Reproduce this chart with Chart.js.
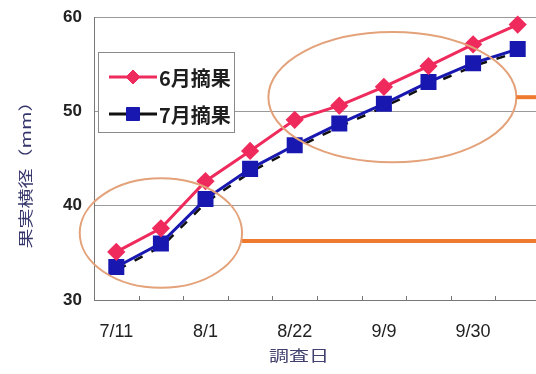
<!DOCTYPE html>
<html>
<head>
<meta charset="utf-8">
<script src="https://cdn.jsdelivr.net/npm/chart.js@4"></script>
<style>
  html, body { margin: 0; padding: 0; overflow: hidden; background: #fff; }
  #wrap { width: 540px; height: 374px; position: relative; }
  canvas { display: block; }
</style>
</head>
<body>
<div id="wrap"><canvas id="c" width="540" height="374"></canvas></div>
<script>
// Survey dates (labelled every second survey)
const categories = ['7/11', '', '8/1', '', '8/22', '', '9/9', '', '9/30', ''];
// Fruit transverse diameter (mm)
const juneThinning = [35.1, 37.6, 42.6, 45.8, 49.1, 50.6, 52.6, 54.8, 57.1, 59.2];
const julyThinning = [33.5, 36.0, 40.7, 43.9, 46.4, 48.7, 50.8, 53.1, 55.1, 56.6];
const seriesNames = ['6月摘果', '7月摘果'];
const yTicks = [30, 40, 50, 60];

const RED = '#ef2a5c';
const BLUE = '#1818b0';
const JP = '"Noto Sans CJK JP", "Noto Sans", sans-serif';

// Highlight rings (in data units) with leader lines running to the right edge
const rings = [
  { cx: 1.0, cy: 37.1, rx: 1.82, ry: 5.8, lineY: 36.25 },
  { cx: 6.19, cy: 51.5, rx: 2.78, ry: 6.9, lineY: 51.5 }
];

const decor = {
  id: 'decor',
  beforeDatasetDraw(chart, args) {
    // dark dashed trace running just under the July line
    if (args.index !== 1) return;
    const pts = chart.getDatasetMeta(1).data;
    const ctx = chart.ctx;
    ctx.save();
    ctx.strokeStyle = '#111';
    ctx.lineWidth = 2.5;
    ctx.setLineDash([9, 10]);
    ctx.beginPath();
    pts.forEach((p, i) => {
      const px = p.x + 1.5, py = p.y + 2.5;
      if (i === 0) ctx.moveTo(px, py); else ctx.lineTo(px, py);
    });
    ctx.stroke();
    ctx.restore();
  },
  afterDatasetsDraw(chart) {
    const ctx = chart.ctx;
    const xs = chart.scales.x, ys = chart.scales.y;
    const unitX = xs.getPixelForValue(1) - xs.getPixelForValue(0);
    const unitY = ys.getPixelForValue(30) - ys.getPixelForValue(31);
    ctx.save();
    rings.forEach(r => {
      const cx = xs.getPixelForValue(r.cx);
      const cy = ys.getPixelForValue(r.cy);
      const rx = r.rx * unitX, ry = r.ry * unitY;
      ctx.strokeStyle = '#e3a27a';
      ctx.lineWidth = 2;
      ctx.beginPath();
      ctx.ellipse(cx, cy, rx, ry, 0, 0, Math.PI * 2);
      ctx.stroke();
      const ly = ys.getPixelForValue(r.lineY);
      ctx.strokeStyle = '#ee7a30';
      ctx.lineWidth = 4;
      ctx.beginPath();
      ctx.moveTo(cx + rx, ly);
      ctx.lineTo(chart.width, ly);
      ctx.stroke();
    });

    // inward tick marks on the date axis at category boundaries
    ctx.strokeStyle = '#777';
    ctx.lineWidth = 1;
    const bottom = chart.chartArea.bottom;
    for (let i = 1; i < categories.length; i++) {
      const tx = Math.round((xs.getPixelForValue(i - 1) + xs.getPixelForValue(i)) / 2) + 0.5;
      ctx.beginPath();
      ctx.moveTo(tx, bottom);
      ctx.lineTo(tx, bottom - 4);
      ctx.stroke();
    }

    // legend box
    const bx = 98, by = 52, bw = 136, bh = 80;
    ctx.fillStyle = '#fff';
    ctx.fillRect(bx, by, bw, bh);
    ctx.strokeStyle = '#8a8a8a';
    ctx.lineWidth = 1;
    ctx.strokeRect(bx + 0.5, by + 0.5, bw, bh);
    const rowsY = [77, 114];
    chart.data.datasets.forEach((ds, i) => {
      const y = rowsY[i];
      ctx.strokeStyle = i === 1 ? '#111' : ds.borderColor;
      ctx.lineWidth = 3;
      ctx.beginPath();
      ctx.moveTo(109, y);
      ctx.lineTo(157, y);
      ctx.stroke();
      ctx.fillStyle = ds.pointBackgroundColor;
      ctx.strokeStyle = ds.pointBorderColor;
      ctx.lineWidth = 1;
      Chart.helpers.drawPoint(ctx, {
        pointStyle: ds.pointStyle, radius: ds.pointRadius, borderWidth: 1
      }, 133, y);
      ctx.fillStyle = '#1e1e1e';
      ctx.font = 'bold 20px ' + JP;
      ctx.textAlign = 'left';
      ctx.textBaseline = 'middle';
      ctx.fillText(ds.label, 159, y + 1);
    });
    ctx.restore();
  },
  afterDraw(chart) {
    const ctx = chart.ctx;
    ctx.save();
    // vertical axis title
    ctx.translate(26, 170);
    ctx.rotate(-Math.PI / 2);
    ctx.scale(1, 0.72);
    ctx.fillStyle = '#35356b';
    ctx.font = '20px ' + JP;
    ctx.textAlign = 'center';
    ctx.textBaseline = 'middle';
    ctx.fillText('果実横径（mm）', 0, 0);
    ctx.restore();
    // horizontal axis title
    ctx.save();
    ctx.translate(299, 356);
    ctx.scale(1, 0.72);
    ctx.fillStyle = '#40406e';
    ctx.font = '20px ' + JP;
    ctx.textAlign = 'center';
    ctx.textBaseline = 'middle';
    ctx.fillText('調査日', 0, 0);
    ctx.restore();
  }
};

new Chart(document.getElementById('c'), {
  type: 'line',
  data: {
    labels: categories,
    datasets: [
      {
        label: seriesNames[0],
        data: juneThinning,
        borderColor: RED,
        backgroundColor: RED,
        pointBackgroundColor: RED,
        pointBorderColor: RED,
        pointStyle: 'rectRot',
        pointRadius: 7,
        borderWidth: 3,
        tension: 0,
        clip: false
      },
      {
        label: seriesNames[1],
        data: julyThinning,
        borderColor: BLUE,
        backgroundColor: BLUE,
        pointBackgroundColor: BLUE,
        pointBorderColor: BLUE,
        pointStyle: 'rect',
        pointRadius: 9.2,
        borderWidth: 3,
        tension: 0,
        clip: false
      }
    ]
  },
  options: {
    responsive: false,
    animation: false,
    devicePixelRatio: 1,
    layout: { autoPadding: false, padding: { top: 17, left: 0, right: 0, bottom: 0 } },
    plugins: { legend: { display: false }, tooltip: { enabled: false } },
    scales: {
      x: {
        type: 'category',
        offset: true,
        grid: { display: false, drawTicks: false },
        border: { display: true, color: '#777', width: 1 },
        ticks: {
          autoSkip: false, maxRotation: 0, padding: 21,
          color: '#222',
          font: { family: '"Liberation Sans", Arial, sans-serif', size: 18 }
        },
        afterFit(s) {
          s.height = 74;
          s.paddingLeft = 0;
          s.paddingRight = 0;
        }
      },
      y: {
        min: 30, max: 60,
        afterBuildTicks(s) { s.ticks = yTicks.map(v => ({ value: v })); },
        grid: { color: '#9a9a9a', drawTicks: false, lineWidth: 1 },
        border: { display: true, color: '#777', width: 1 },
        ticks: {
          padding: 12,
          color: '#222',
          font: { family: '"Liberation Sans", Arial, sans-serif', size: 17, weight: 'bold' }
        },
        afterFit(s) {
          s.width = 94;
          s.paddingTop = 0;
          s.paddingBottom = 0;
        }
      }
    }
  },
  plugins: [decor]
});
</script>
</body>
</html>
